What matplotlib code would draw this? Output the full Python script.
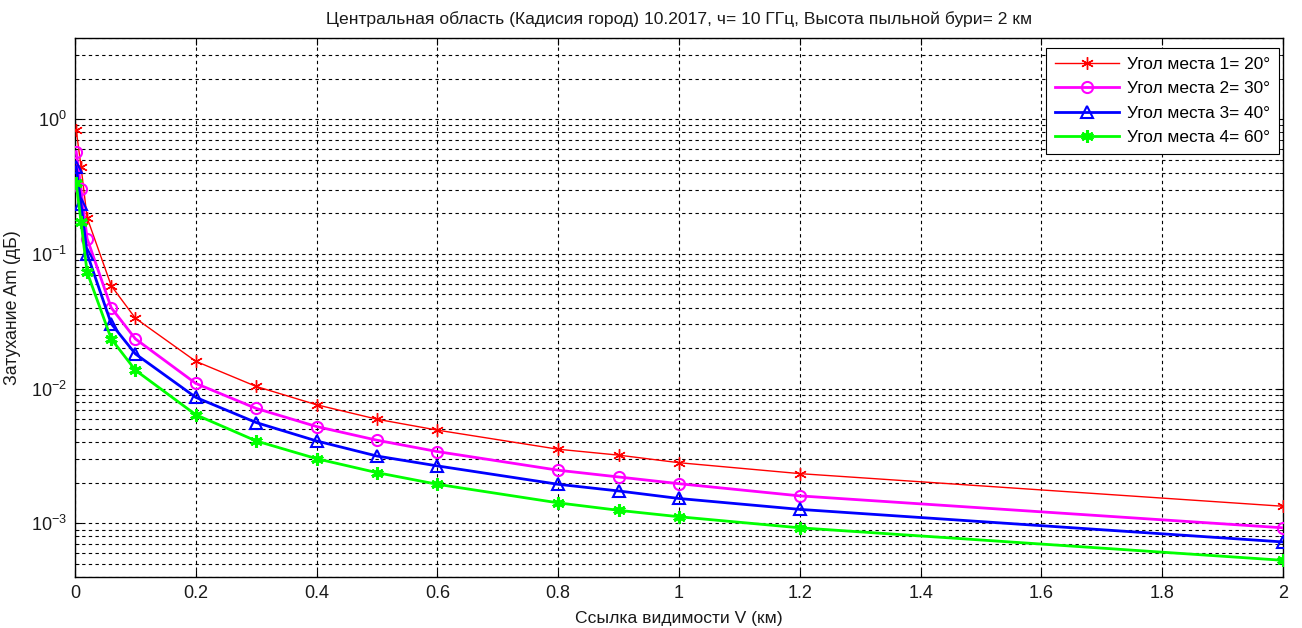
import matplotlib
matplotlib.use("Agg")
import matplotlib.pyplot as plt
from matplotlib.ticker import LogLocator, MultipleLocator, NullFormatter, FuncFormatter

plt.rcParams['font.family'] = ['Liberation Sans', 'DejaVu Sans']
plt.rcParams['mathtext.fontset'] = 'custom'
plt.rcParams['mathtext.rm'] = 'Liberation Sans'
plt.rcParams['mathtext.it'] = 'Liberation Sans:italic'

# Visibility V (km)
visibility = [0.002, 0.01, 0.02, 0.06, 0.1, 0.2, 0.3, 0.4, 0.5, 0.6, 0.8, 0.9, 1.0, 1.2, 2.0]

# Attenuation Am (dB) for each elevation angle
atten_20 = [0.83, 0.444, 0.186, 0.058, 0.0333, 0.01595, 0.01038, 0.00759, 0.00593,
            0.00492, 0.00355, 0.00321, 0.00282, 0.00234, 0.00134]
atten_30 = [0.574, 0.301, 0.130, 0.0398, 0.0234, 0.01093, 0.00713, 0.00523, 0.00414,
            0.00341, 0.00248, 0.00221, 0.00197, 0.00160, 0.000927]
atten_40 = [0.444, 0.234, 0.1005, 0.0303, 0.0181, 0.00861, 0.00560, 0.00409, 0.00316,
            0.00267, 0.00195, 0.00174, 0.00153, 0.00127, 0.000728]
atten_60 = [0.334, 0.173, 0.0733, 0.0234, 0.0137, 0.0064, 0.00409, 0.00302, 0.00238,
            0.00195, 0.00142, 0.00125, 0.00112, 0.000927, 0.000532]

labels = ['Угол места 1= 20°', 'Угол места 2= 30°', 'Угол места 3= 40°', 'Угол места 4= 60°']

ASTERISK = (6, 2, 0)
TEXT_COLOR = '#1a1a1a'

fig = plt.figure(figsize=(13.02, 6.28), dpi=100)
ax = fig.add_axes([75 / 1302, 51 / 628, 1208 / 1302, 539 / 628])

ax.semilogy(visibility, atten_20, color='#ff0000', lw=1.0, marker=ASTERISK, ms=9,
            mfc='none', mec='#ff0000', mew=1.0, label=labels[0], zorder=5)
ax.semilogy(visibility, atten_30, color='#ff00ff', lw=2.0, marker='o', ms=8,
            mfc='none', mec='#ff00ff', mew=1.5, label=labels[1], zorder=5)
ax.semilogy(visibility, atten_40, color='#0000ff', lw=2.0, marker='^', ms=8,
            mfc='none', mec='#0000ff', mew=1.5, label=labels[2], zorder=5)
ax.semilogy(visibility, atten_60, color='#00ff00', lw=2.0, marker=ASTERISK, ms=9,
            mfc='#00ff00', mec='#00ff00', mew=2.2, label=labels[3], zorder=5)

ax.set_xlim(0, 2)
ax.set_ylim(4e-4, 4)
ax.xaxis.set_major_locator(MultipleLocator(0.2))
ax.xaxis.set_major_formatter(FuncFormatter(lambda v, p: '%g' % round(v, 1)))
ax.yaxis.set_major_locator(LogLocator(base=10, numticks=10))
ax.yaxis.set_minor_locator(LogLocator(base=10, subs=range(2, 10), numticks=20))
ax.yaxis.set_minor_formatter(NullFormatter())

ax.grid(True, which='major', axis='both', color='black', ls=(0, (3, 3)), lw=0.8)
ax.grid(True, which='minor', axis='y', color='black', ls=(0, (3, 3)), lw=0.8)
ax.set_axisbelow(True)

ax.tick_params(axis='both', which='both', direction='in', top=True, right=True,
               labelsize=13, colors='black', labelcolor=TEXT_COLOR)
ax.tick_params(axis='both', which='major', length=5)
ax.tick_params(axis='y', which='minor', length=3)
ax.tick_params(axis='y', which='major', pad=6)
ax.tick_params(axis='x', which='major', pad=6)
for s in ax.spines.values():
    s.set_linewidth(1.0)
    s.set_color('black')

ax.set_title('Центральная область (Кадисия город) 10.2017, ч= 10 ГГц, Высота пыльной бури= 2 км',
             fontsize=12.6, color=TEXT_COLOR, pad=10)
ax.set_xlabel('Ссылка видимости V (км)', fontsize=12.6, color=TEXT_COLOR, labelpad=6)
ax.set_ylabel('Затухание Am (дБ)', fontsize=12.8, color=TEXT_COLOR, labelpad=7)

leg = ax.legend(loc='upper right', fontsize=12.4, frameon=True, fancybox=False,
                edgecolor='black', framealpha=1.0, borderpad=0.5, labelspacing=0.55,
                handlelength=3.7, handletextpad=0.5, borderaxespad=0.0,
                bbox_to_anchor=(1279 / 1302, 1 - 48 / 628), bbox_transform=fig.transFigure)
leg.get_frame().set_linewidth(0.8)

fig.savefig('out.png', dpi=100, facecolor='white')
